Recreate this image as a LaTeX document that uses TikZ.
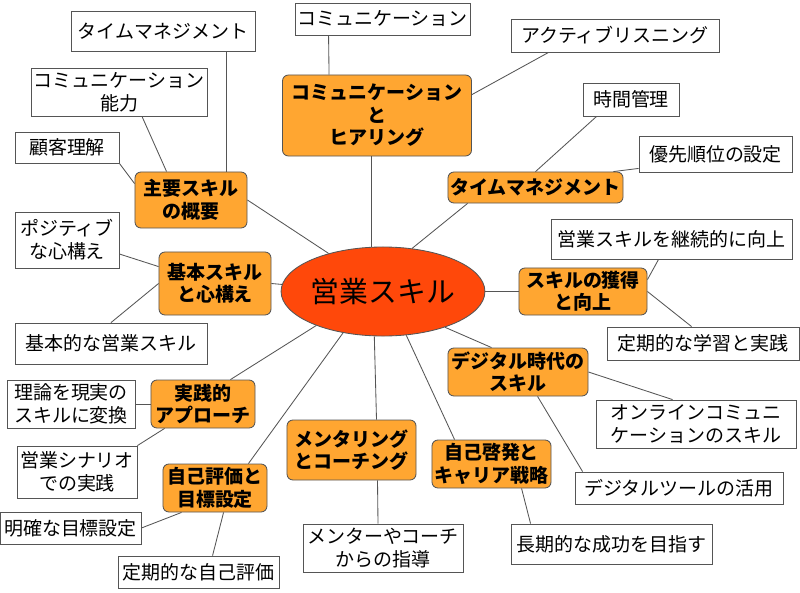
\documentclass[tikz,border=0pt]{standalone}
\usepackage{fontspec}
\setmainfont{Noto Sans CJK JP}
\usepackage{xcolor}
\usepackage{tikz}
\usetikzlibrary{shapes.geometric, positioning, calc}
\definecolor{hubred}{RGB}{255, 72, 10}
\definecolor{branchorange}{RGB}{255, 166, 49}
\definecolor{edgegray}{RGB}{85, 85, 85}
\tikzstyle{hub} = [ellipse, draw=edgegray, fill=hubred, minimum width=4.4cm, minimum height=2.225cm, inner sep=0pt, font=\fontsize{20.5pt}{24pt}\selectfont, line width=0.6pt]
\tikzstyle{branch} = [rectangle, draw=edgegray, fill=branchorange, rounded corners=0.15cm, align=center, inner sep=0pt, font=\fontsize{13.5pt}{16pt}\selectfont\bfseries, line width=0.6pt]
\tikzstyle{leaf} = [rectangle, draw=edgegray, fill=white, align=center, inner sep=0pt, font=\fontsize{13.5pt}{16.3pt}\selectfont, line width=0.6pt]
\tikzstyle{link} = [draw=edgegray, line width=0.6pt]

\begin{document}
\begin{tikzpicture}[x=0.025cm, y=-0.025cm]
    \fill[white] (0,0) rectangle (800,592);
    \useasboundingbox (0,0) rectangle (800,592);

    % Central topic
    \node[hub] (hub) at (383, 291.5) {営業スキル};

    % Main branches
    \node[branch, minimum width=2.8cm, minimum height=1.4cm] (overview) at (191, 200) {主要スキル\\の概要};
    \node[branch, minimum width=2.8cm, minimum height=1.575cm] (basics) at (215, 283.5) {基本スキル\\と心構え};
    \node[branch, minimum width=4.725cm, minimum height=2.025cm] (comm) at (377, 115.5) {コミュニケーション\\と\\ヒアリング};
    \node[branch, minimum width=4.375cm, minimum height=0.775cm] (time) at (535.5, 187.5) {タイムマネジメント};
    \node[branch, minimum width=3.2cm, minimum height=1.175cm] (growth) at (583, 291.5) {スキルの獲得\\と向上};
    \node[branch, minimum width=3.5cm, minimum height=1.2cm] (digital) at (518, 372) {デジタル時代の\\スキル};
    \node[branch, minimum width=2.975cm, minimum height=1.2cm] (career) at (491.5, 464) {自己啓発と\\キャリア戦略};
    \node[branch, minimum width=3.225cm, minimum height=1.5cm] (mentor) at (351.5, 450) {メンタリング\\とコーチング};
    \node[branch, minimum width=2.6cm, minimum height=1.2cm] (selfeval) at (215, 488) {自己評価と\\目標設定};
    \node[branch, minimum width=2.6cm, minimum height=1.2cm] (practice) at (203, 404) {実践的\\アプローチ};

    % Leaves: left side
    \node[leaf, minimum width=4.6cm, minimum height=1.0cm] (timeleaf) at (163, 31.5) {タイムマネジメント};
    \node[leaf, minimum width=4.4cm, minimum height=1.2cm] (commskill) at (119, 92) {コミュニケーション\\能力};
    \node[leaf, minimum width=2.6cm, minimum height=0.775cm] (customer) at (67, 147.5) {顧客理解};
    \node[leaf, minimum width=2.6cm, minimum height=1.4cm] (mindset) at (67, 240) {ポジティブ\\な心構え};
    \node[leaf, minimum width=4.8cm, minimum height=1.025cm] (basicsales) at (111, 343.5) {基本的な営業スキル};
    \node[leaf, minimum width=3.2cm, minimum height=1.2cm] (theory) at (71, 404) {理論を現実の\\スキルに変換};
    \node[leaf, minimum width=3.0cm, minimum height=1.3cm] (scenario) at (77, 472) {営業シナリオ\\での実践};
    \node[leaf, minimum width=3.525cm, minimum height=0.8cm] (goals) at (70.5, 528) {明確な目標設定};
    \node[leaf, minimum width=4.025cm, minimum height=0.8cm] (review) at (198.5, 572) {定期的な自己評価};

    % Leaves: bottom and right side
    \node[leaf, minimum width=4.0cm, minimum height=1.2cm] (guidance) at (383, 548) {メンターやコーチ\\からの指導};
    \node[leaf, minimum width=5.025cm, minimum height=1.0cm] (longterm) at (611.5, 544) {長期的な成功を目指す};
    \node[leaf, minimum width=5.2cm, minimum height=0.8cm] (tools) at (679, 488) {デジタルツールの活用};
    \node[leaf, minimum width=5.0cm, minimum height=1.2cm] (online) at (696, 424) {オンラインコミュニ\\ケーションのスキル};
    \node[leaf, minimum width=4.8cm, minimum height=0.825cm] (study) at (703, 343.5) {定期的な学習と実践};
    \node[leaf, minimum width=6.025cm, minimum height=1.0cm] (improve) at (671.5, 239) {営業スキルを継続的に向上};
    \node[leaf, minimum width=3.825cm, minimum height=0.9cm] (priority) at (715.5, 154) {優先順位の設定};
    \node[leaf, minimum width=2.4cm, minimum height=0.825cm] (clock) at (631, 99.5) {時間管理};
    \node[leaf, minimum width=5.2cm, minimum height=0.825cm] (listen) at (615, 35.5) {アクティブリスニング};
    \node[leaf, minimum width=4.375cm, minimum height=0.8cm] (commleaf) at (382.5, 19) {コミュニケーション};

    % Hub to branches
    \draw[link] (hub.145) -- (overview.east);
    \draw[link] (hub.176) -- (basics.east);
    \draw[link] (hub.105) -- (comm.south -| hub.105);
    \draw[link] (hub.56) -- ([shift={(20,0)}]time.south west);
    \draw[link] (hub.east) -- (growth.west);
    \draw[link] (hub.330) -- ([shift={(44,0)}]digital.north west);
    \draw[link] (hub.298) -- ([shift={(23,0)}]career.north west);
    \draw[link] (hub.259) -- ([shift={(25,0)}]mentor.north);
    \draw[link] (hub.226) -- ([shift={(-19,0)}]selfeval.north east);
    \draw[link] (hub.207) -- ([shift={(-25,0)}]practice.north east);

    % Branches to leaves
    \draw[link] ([shift={(63,0)}]timeleaf.south) -- ([shift={(35,0)}]overview.north);
    \draw[link] ([shift={(23,0)}]commskill.south) -- ([shift={(32,0)}]overview.north west);
    \draw[link] (customer.south east) -- ([shift={(0,12)}]overview.north west);
    \draw[link] ([shift={(0,14)}]mindset.east) -- ([shift={(0,15)}]basics.north west);
    \draw[link] (basicsales.north) -- (basics.west);
    \draw[link] ([shift={(34,0)}]commleaf.south west) -- ([shift={(47,0)}]comm.north west);
    \draw[link] ([shift={(38,0)}]listen.south west) -- ([shift={(0,20)}]comm.north east);
    \draw[link] ([shift={(14,0)}]clock.south west) -- (time.north);
    \draw[link] ([shift={(0,-4)}]priority.south west) -- ([shift={(-10,0)}]time.north east);
    \draw[link] ([shift={(108,0)}]improve.south west) -- ([shift={(0,12)}]growth.north east);
    \draw[link] ([shift={(85,0)}]study.north west) -- (growth.east);
    \draw[link] (digital.east) -- ([shift={(77,0)}]online.north west);
    \draw[link] ([shift={(90,0)}]digital.south west) -- ([shift={(8,0)}]tools.north west);
    \draw[link] ([shift={(90,0)}]career.south west) -- ([shift={(20,0)}]longterm.north west);
    \draw[link] ([shift={(26,0)}]mentor.south) -- ([shift={(-5,0)}]guidance.north);
    \draw[link] (goals.east) -- ([shift={(19,0)}]selfeval.south west);
    \draw[link] ([shift={(95,0)}]review.north west) -- ([shift={(61,0)}]selfeval.south west);
    \draw[link] (theory.east) -- (practice.west);
    \draw[link] (scenario.north east) -- ([shift={(14,0)}]practice.south west);
\end{tikzpicture}
\end{document}
